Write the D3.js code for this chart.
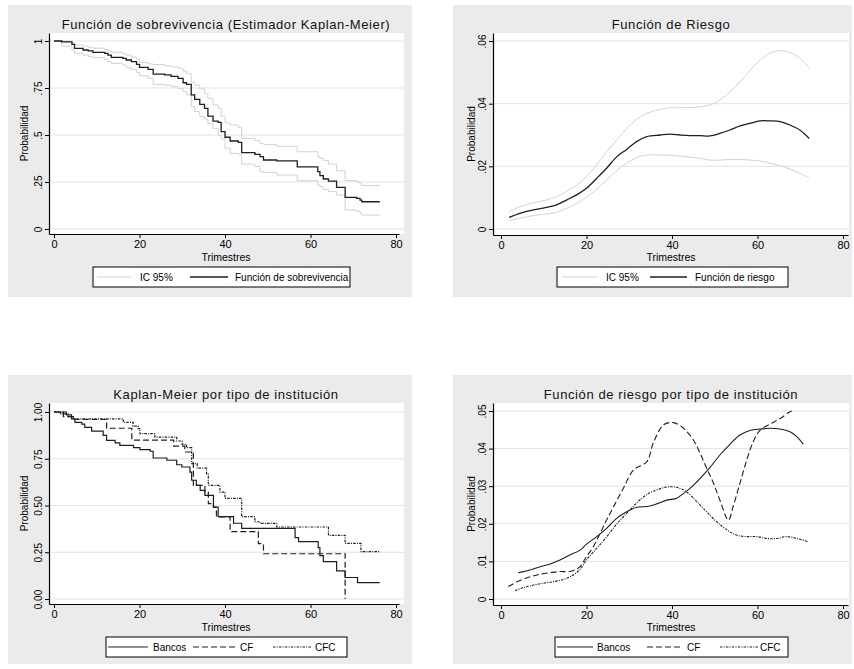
<!DOCTYPE html>
<html>
<head>
<meta charset="utf-8">
<script src="https://cdn.jsdelivr.net/npm/d3@7"></script>
<style>
  body { margin: 0; background: #fff; }
  svg { display: block; font-family: "Liberation Sans", Arial, sans-serif; }
</style>
</head>
<body>
<svg id="chart" width="854" height="669"></svg>
<script>
// ---- Kaplan-Meier global (step function) ----
const kmTime  = [0, 1.8, 4.2, 4.8, 6.8, 8.0, 9.1, 11.9, 12.6, 13.4, 16.1, 16.9, 18.1, 19.3, 20.0, 22.0, 23.2, 25.9, 27.4, 29.0, 30.2, 31.0, 32.1, 32.9, 34.1, 35.2, 36.0, 37.2, 38.4, 39.1, 40.0, 41.2, 43.1, 43.9, 47.0, 48.2, 49.0, 52.1, 56.9, 61.7, 62.2, 63.0, 64.2, 66.1, 68.1, 70.8, 71.6, 72.0, 76.2];
const kmSurv  = [1, .995, .982, .961, .952, .947, .94, .934, .925, .913, .908, .899, .89, .876, .86, .849, .824, .82, .812, .801, .778, .769, .713, .69, .663, .642, .6, .574, .567, .518, .488, .468, .461, .406, .397, .385, .367, .362, .33, .305, .284, .266, .255, .221, .168, .163, .154, .145, .145];
const kmUpper = [1, 1, .99, .979, .972, .966, .962, .955, .947, .94, .932, .925, .915, .904, .886, .878, .875, .868, .862, .855, .84, .828, .78, .766, .745, .72, .695, .66, .642, .6, .565, .553, .539, .482, .47, .456, .45, .44, .411, .385, .376, .365, .345, .31, .258, .252, .24, .231, .231];
const kmLower = [1, .973, .952, .935, .925, .917, .912, .902, .89, .881, .872, .858, .848, .833, .815, .801, .769, .765, .757, .748, .73, .713, .651, .624, .598, .585, .56, .535, .5, .48, .43, .402, .395, .345, .332, .305, .3, .287, .257, .235, .225, .21, .199, .181, .101, .095, .085, .074, .074];

// ---- Hazard global ----
const hzTime  = [1.9, 4.4, 7.6, 10.7, 13.0, 15.4, 17.7, 20.0, 22.4, 24.7, 27.1, 29.4, 31.7, 34.1, 37.2, 39.5, 41.9, 44.2, 46.6, 48.9, 51.2, 53.6, 55.9, 58.2, 60.6, 62.9, 65.3, 67.6, 69.9, 72.1];
const hzRate  = [.0037, .005, .0061, .0069, .0077, .0093, .0109, .013, .0162, .0194, .0231, .0254, .0279, .0295, .03, .0303, .03, .0298, .0298, .0297, .0305, .0316, .0329, .0337, .0345, .0345, .0343, .0332, .0316, .0289];
const hzUpper = [.0055, .0071, .0084, .0093, .0103, .0121, .014, .0167, .0204, .0247, .0284, .0321, .035, .0369, .0382, .0387, .0387, .0388, .039, .0396, .0412, .0438, .047, .0505, .0539, .0561, .0569, .0563, .0545, .0513];
const hzLower = [.0027, .0034, .0043, .0048, .0053, .0066, .0082, .0101, .0127, .0156, .0186, .021, .0228, .0236, .0236, .0235, .0233, .0229, .0226, .022, .022, .0222, .0222, .022, .0217, .021, .0202, .0191, .0178, .0162];

// ---- Kaplan-Meier by institution ----
const bancosTime = [0, 2.9, 4.1, 4.9, 6.5, 7.2, 8.8, 11.5, 12.3, 14.3, 15.4, 18.6, 20.1, 22.5, 23.2, 26.4, 28.7, 29.9, 31.8, 32.2, 33.3, 34.2, 35.3, 37.3, 38.4, 42.0, 43.9, 56.4, 57.2, 61.8, 62.2, 63.0, 66.1, 68.1, 71.0, 76.2];
const bancosSurv = [1, .985, .963, .944, .935, .918, .898, .875, .848, .835, .822, .809, .799, .79, .754, .742, .718, .706, .679, .635, .608, .581, .554, .492, .44, .405, .378, .328, .307, .275, .232, .2, .15, .115, .088, .088];
const cfTime = [0, 2.2, 4.5, 12.3, 18.2, 28.0, 30.6, 32.6, 35.3, 36.1, 37.3, 38.0, 41.2, 47.8, 49.0, 68.1];
const cfSurv = [1, .975, .96, .913, .85, .818, .786, .608, .572, .51, .49, .439, .36, .296, .242, 0];
const cfcTime = [0, 1.5, 3.3, 4.5, 16.2, 18.5, 19.7, 20.1, 23.6, 28.7, 30.0, 31.0, 32.2, 33.5, 35.7, 36.1, 38.8, 40.0, 43.9, 47.0, 48.2, 52.1, 64.2, 68.1, 71.8, 76.2];
const cfcSurv = [1, .99, .975, .963, .945, .925, .911, .884, .866, .845, .827, .809, .724, .7, .667, .608, .572, .538, .44, .413, .404, .385, .34, .297, .253, .253];

// ---- Hazard by institution ----
const hzBancosTime = [4.05, 6.8, 9.1, 11.5, 13.8, 16.1, 18.5, 20.0, 22.4, 24.7, 27.1, 29.4, 31.7, 34.1, 36.4, 38.8, 41.1, 42.7, 44.2, 46.6, 48.9, 51.2, 53.6, 55.9, 58.2, 60.6, 62.9, 65.3, 67.6, 69.2, 70.7];
const hzBancos     = [.007, .0077, .0086, .0093, .0104, .0117, .013, .0146, .0166, .0188, .0215, .0232, .0244, .0246, .0253, .0263, .0268, .0281, .0294, .0321, .035, .0383, .0412, .0436, .0448, .0452, .0454, .0452, .0445, .0432, .0412];
const hzCfTime = [1.7, 4.4, 6.8, 9.1, 11.5, 13.8, 16.1, 17.7, 18.5, 20.0, 21.6, 23.2, 24.7, 26.3, 28.6, 31.0, 34.1, 35.6, 38.0, 40.3, 42.7, 45.0, 46.6, 48.1, 49.7, 51.2, 53.2, 54.3, 55.9, 57.5, 59.0, 60.6, 62.9, 65.3, 67.6, 68.4];
const hzCf     = [.0033, .0049, .0059, .0066, .007, .0073, .0073, .008, .0086, .0113, .0139, .0175, .021, .0245, .0294, .0343, .0365, .0414, .0463, .0469, .0454, .0423, .0387, .0348, .0308, .0263, .021, .0246, .0308, .037, .0418, .0449, .0465, .048, .0498, .0501];
const hzCfcTime = [3.3, 5.2, 7.6, 9.9, 12.2, 14.6, 16.9, 18.5, 20.0, 22.4, 24.7, 27.1, 29.4, 31.7, 34.1, 36.4, 38.8, 41.1, 43.4, 45.8, 48.1, 50.4, 52.8, 55.1, 57.5, 59.8, 62.1, 64.5, 66.8, 69.2, 71.9];
const hzCfc     = [.0022, .003, .0037, .0042, .0046, .0052, .0064, .0079, .0104, .0135, .0165, .02, .0228, .0255, .0278, .029, .0298, .0297, .0285, .0259, .0232, .0206, .0184, .017, .0166, .0166, .0161, .0161, .0166, .0161, .0152];

// ---- Axis ticks ----
const xTicks = [0, 20, 40, 60, 80];
const yTicksKm = [0, .25, .5, .75, 1];
const yLabelsKm = ["0", ".25", ".5", ".75", "1"];
const yTicksHz = [0, .02, .04, .06];
const yLabelsHz = ["0", ".02", ".04", ".06"];
const yTicksKmGroup = [0, .25, .5, .75, 1];
const yLabelsKmGroup = ["0.00", "0.25", "0.50", "0.75", "1.00"];
const yTicksHzGroup = [0, .01, .02, .03, .04, .05];
const yLabelsHzGroup = ["0", ".01", ".02", ".03", ".04", ".05"];

const BG = "#ebebeb";
const CI_COLOR = "#d2d2d2";
const DARK = "#1e1e1e";
const DASH_CF = "6,3";
const DASH_CFC = "2.5,1.2,1,1.2";

const svg = d3.select("#chart");

function drawPanel(p) {
    const g = svg.append("g");

    g.append("rect")
        .attr("x", p.bg[0]).attr("y", p.bg[1])
        .attr("width", p.bg[2]).attr("height", p.bg[3])
        .attr("fill", BG);

    g.append("rect")
        .attr("x", p.left).attr("y", p.top)
        .attr("width", p.right - p.left).attr("height", p.bottom - p.top)
        .attr("fill", "#fff");

    // scales anchored on the tick positions, extended to the plot edges
    const xBase = d3.scaleLinear().domain([0, 80]).range([p.x0, p.x80]);
    const xScale = d3.scaleLinear()
        .domain([xBase.invert(p.left), xBase.invert(p.axisEnd)])
        .range([p.left, p.axisEnd]);
    const yBase = d3.scaleLinear().domain([0, p.yMax]).range([p.y0, p.yMaxPx]);
    const yScale = d3.scaleLinear()
        .domain([yBase.invert(p.bottom), yBase.invert(p.top)])
        .range([p.bottom, p.top]);

    // gridlines
    g.append("g")
        .selectAll("line")
        .data(p.yTicks)
        .join("line")
        .attr("x1", p.left + 1).attr("x2", p.right)
        .attr("y1", d => yScale(d)).attr("y2", d => yScale(d))
        .attr("stroke", "#e3e3e3")
        .attr("stroke-width", 1);

    // series
    for (const s of p.series) {
        const pts = d3.zip(s.t, s.v);
        const line = d3.line()
            .x(d => xScale(d[0]))
            .y(d => yScale(d[1]))
            .curve(s.step ? d3.curveStepAfter : d3.curveCatmullRom.alpha(0.5));
        g.append("path")
            .datum(pts)
            .attr("d", line)
            .attr("fill", "none")
            .attr("stroke", s.color)
            .attr("stroke-width", s.width)
            .attr("stroke-dasharray", s.dash || null);
    }

    // axes
    const yAxis = g.append("g")
        .attr("transform", `translate(${p.left},0)`)
        .call(d3.axisLeft(yScale)
            .tickValues(p.yTicks)
            .tickFormat((d, i) => p.yLabels[i])
            .tickSize(4)
            .tickSizeOuter(0));
    yAxis.select(".domain").attr("stroke", "#000").attr("stroke-width", 1.2);
    yAxis.selectAll(".tick line").attr("stroke", "#000");
    yAxis.selectAll(".tick text")
        .attr("transform", "rotate(-90)")
        .attr("text-anchor", "middle")
        .attr("x", 0)
        .attr("y", -7)
        .attr("dy", 0)
        .style("font-size", "10px")
        .style("font-family", "Liberation Sans, Arial, sans-serif")
        .attr("fill", "#000");

    const xAxis = g.append("g")
        .attr("transform", `translate(0,${p.bottom})`)
        .call(d3.axisBottom(xScale)
            .tickValues(xTicks)
            .tickSize(4)
            .tickPadding(2)
            .tickSizeOuter(0));
    xAxis.select(".domain").attr("stroke", "#000").attr("stroke-width", 1.2);
    xAxis.selectAll(".tick line").attr("stroke", "#000");
    xAxis.selectAll(".tick text")
        .style("font-size", "11px")
        .style("font-family", "Liberation Sans, Arial, sans-serif")
        .attr("fill", "#000");

    // title + axis titles
    g.append("text")
        .attr("x", p.titleX).attr("y", p.titleY)
        .attr("text-anchor", "middle")
        .attr("dy", "0.35em")
        .style("font-size", "13px")
        .style("letter-spacing", "0.6px")
        .attr("fill", "#111")
        .text(p.title);

    g.append("text")
        .attr("x", p.titleX).attr("y", p.xLabelY)
        .attr("text-anchor", "middle")
        .attr("dy", "0.35em")
        .style("font-size", "10.5px")
        .attr("fill", "#000")
        .text("Trimestres");

    g.append("text")
        .attr("transform", `translate(${p.yLabelX},${(p.top + p.bottom) / 2}) rotate(-90)`)
        .attr("text-anchor", "middle")
        .attr("dy", "0.35em")
        .style("font-size", "10px")
        .attr("fill", "#000")
        .text("Probabilidad");

    // legend
    const lg = p.legend;
    g.append("rect")
        .attr("x", lg.box[0]).attr("y", lg.box[1])
        .attr("width", lg.box[2]).attr("height", lg.box[3])
        .attr("fill", "#fff")
        .attr("stroke", "#000")
        .attr("stroke-width", 1);
    const cy = lg.box[1] + lg.box[3] / 2;
    for (const it of lg.items) {
        g.append("line")
            .attr("x1", it.x1).attr("x2", it.x2)
            .attr("y1", cy).attr("y2", cy)
            .attr("stroke", it.color)
            .attr("stroke-width", it.width)
            .attr("stroke-dasharray", it.dash || null);
        g.append("text")
            .attr("x", it.tx).attr("y", cy)
            .attr("dy", "0.35em")
            .style("font-size", "10px")
            .attr("fill", "#000")
            .text(it.label);
    }
}

// Panel 1: survival
drawPanel({
    bg: [8, 5, 404, 292],
    left: 49, right: 404, top: 33, bottom: 234, axisEnd: 399,
    x0: 54, x80: 396, y0: 229, yMaxPx: 41, yMax: 1,
    yTicks: yTicksKm, yLabels: yLabelsKm,
    title: "Función de sobrevivencia (Estimador Kaplan-Meier)",
    titleX: 226, titleY: 24, xLabelY: 257, yLabelX: 24,
    series: [
        { t: kmTime, v: kmUpper, step: true, color: CI_COLOR, width: 1 },
        { t: kmTime, v: kmLower, step: true, color: CI_COLOR, width: 1 },
        { t: kmTime, v: kmSurv, step: true, color: DARK, width: 1.3 }
    ],
    legend: {
        box: [93, 267, 257, 20],
        items: [
            { x1: 97, x2: 131, tx: 140, label: "IC 95%", color: CI_COLOR, width: 1 },
            { x1: 190, x2: 228, tx: 235, label: "Función de sobrevivencia", color: DARK, width: 1.3 }
        ]
    }
});

// Panel 2: hazard
drawPanel({
    bg: [453, 5, 399, 292],
    left: 493, right: 849, top: 33, bottom: 235, axisEnd: 848,
    x0: 501, x80: 843, y0: 229, yMaxPx: 41, yMax: .06,
    yTicks: yTicksHz, yLabels: yLabelsHz,
    title: "Función de Riesgo",
    titleX: 671, titleY: 24, xLabelY: 257, yLabelX: 471,
    series: [
        { t: hzTime, v: hzUpper, color: CI_COLOR, width: 1 },
        { t: hzTime, v: hzLower, color: CI_COLOR, width: 1 },
        { t: hzTime, v: hzRate, color: DARK, width: 1.3 }
    ],
    legend: {
        box: [557, 267, 231, 20],
        items: [
            { x1: 562, x2: 597, tx: 606, label: "IC 95%", color: CI_COLOR, width: 1 },
            { x1: 650, x2: 687, tx: 695, label: "Función de riesgo", color: DARK, width: 1.3 }
        ]
    }
});

// Panel 3: survival by institution type
drawPanel({
    bg: [8, 375, 404, 289],
    left: 49, right: 404, top: 403, bottom: 604, axisEnd: 399,
    x0: 54, x80: 396, y0: 599, yMaxPx: 412, yMax: 1,
    yTicks: yTicksKmGroup, yLabels: yLabelsKmGroup,
    title: "Kaplan-Meier por tipo de institución",
    titleX: 226, titleY: 394, xLabelY: 627, yLabelX: 24,
    series: [
        { t: bancosTime, v: bancosSurv, step: true, color: DARK, width: 1.2 },
        { t: cfTime, v: cfSurv, step: true, color: DARK, width: 1.2, dash: DASH_CF },
        { t: cfcTime, v: cfcSurv, step: true, color: DARK, width: 1.2, dash: DASH_CFC }
    ],
    legend: {
        box: [106, 637, 241, 20],
        items: [
            { x1: 108, x2: 148, tx: 153, label: "Bancos", color: DARK, width: 1.2 },
            { x1: 193, x2: 238, tx: 240, label: "CF", color: DARK, width: 1.2, dash: DASH_CF },
            { x1: 273, x2: 311, tx: 315, label: "CFC", color: DARK, width: 1.2, dash: DASH_CFC }
        ]
    }
});

// Panel 4: hazard by institution type
drawPanel({
    bg: [453, 375, 399, 289],
    left: 493, right: 849, top: 403, bottom: 605, axisEnd: 848,
    x0: 501, x80: 843, y0: 599, yMaxPx: 411, yMax: .05,
    yTicks: yTicksHzGroup, yLabels: yLabelsHzGroup,
    title: "Función de riesgo por tipo de institución",
    titleX: 671, titleY: 394, xLabelY: 627, yLabelX: 471,
    series: [
        { t: hzBancosTime, v: hzBancos, color: DARK, width: 1.1 },
        { t: hzCfTime, v: hzCf, color: DARK, width: 1.1, dash: DASH_CF },
        { t: hzCfcTime, v: hzCfc, color: DARK, width: 1.1, dash: DASH_CFC }
    ],
    legend: {
        box: [555, 637, 233, 20],
        items: [
            { x1: 557, x2: 593, tx: 597, label: "Bancos", color: DARK, width: 1.2 },
            { x1: 647, x2: 683, tx: 687, label: "CF", color: DARK, width: 1.2, dash: DASH_CF },
            { x1: 720, x2: 758, tx: 760, label: "CFC", color: DARK, width: 1.2, dash: DASH_CFC }
        ]
    }
});
</script>
</body>
</html>
